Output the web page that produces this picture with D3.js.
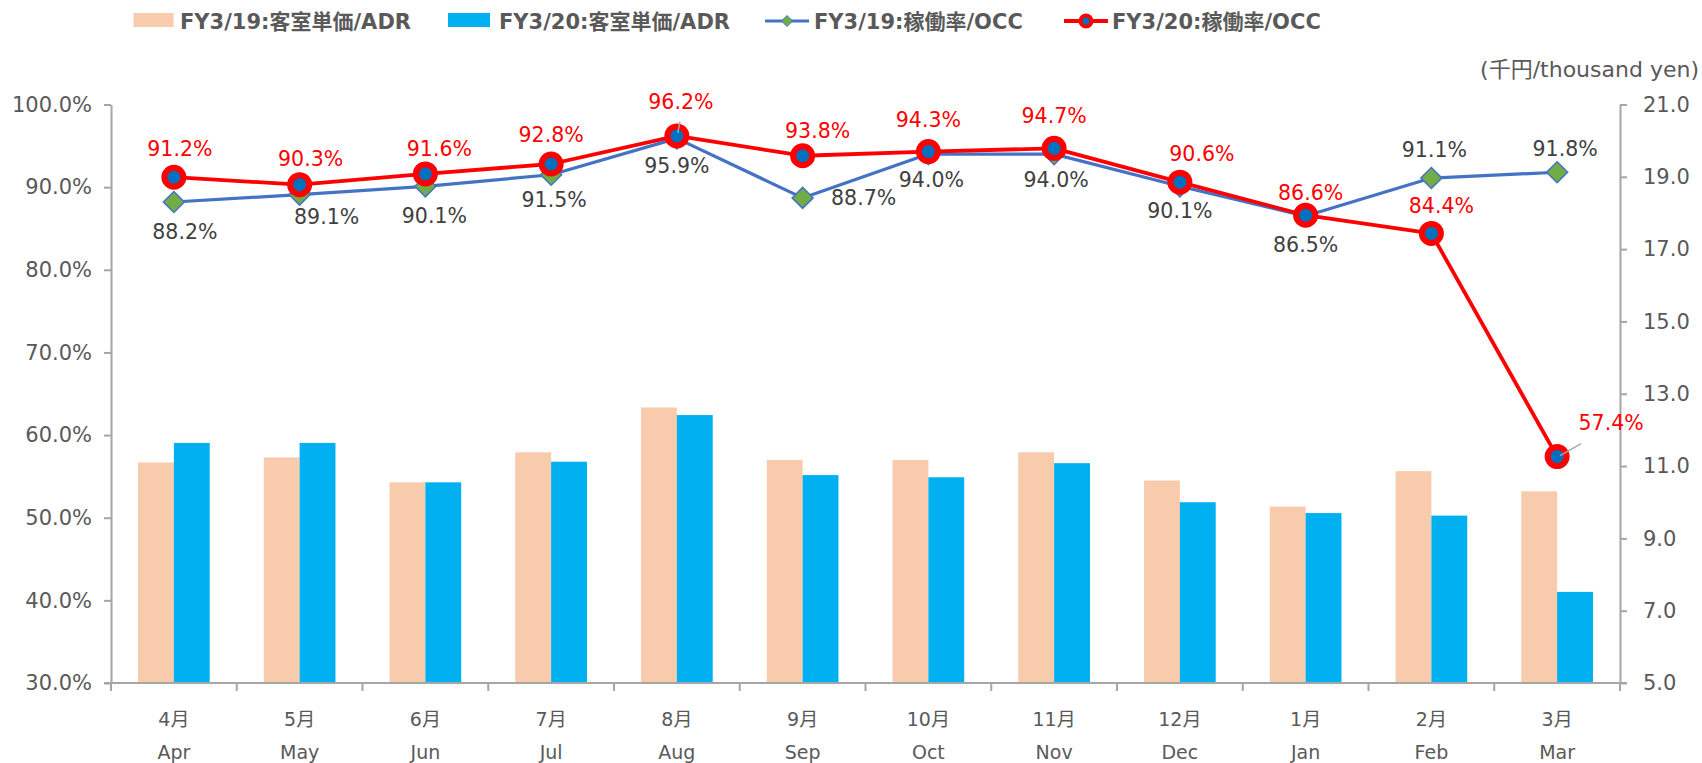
<!DOCTYPE html>
<html>
<head>
<meta charset="utf-8">
<script src="https://cdn.jsdelivr.net/npm/d3@7"></script>
<style>
  html, body { margin: 0; padding: 0; background: #fff; }
  svg { display: block; font-family: 'DejaVu Sans', 'Noto Sans CJK JP', sans-serif; }
</style>
</head>
<body>
<svg id="chart" width="1702" height="763"></svg>
<script>
// ---------------- data ----------------
const monthsJa = ["4月","5月","6月","7月","8月","9月","10月","11月","12月","1月","2月","3月"];
const monthsEn = ["Apr","May","Jun","Jul","Aug","Sep","Oct","Nov","Dec","Jan","Feb","Mar"];
const adrFY19 = [11.10, 11.24, 10.55, 11.38, 12.62, 11.17, 11.17, 11.38, 10.60, 9.88, 10.86, 10.30];
const adrFY20 = [11.64, 11.64, 10.55, 11.12, 12.41, 10.75, 10.69, 11.08, 10.00, 9.70, 9.63, 7.52];
const occFY19 = [88.2, 89.1, 90.1, 91.5, 95.9, 88.7, 94.0, 94.0, 90.1, 86.5, 91.1, 91.8];
const occFY20 = [91.2, 90.3, 91.6, 92.8, 96.2, 93.8, 94.3, 94.7, 90.6, 86.6, 84.4, 57.4];
const leftTicks = [30, 40, 50, 60, 70, 80, 90, 100];
const rightTicks = [5, 7, 9, 11, 13, 15, 17, 19, 21];
const legendLabels = ["FY3/19:客室単価/ADR", "FY3/20:客室単価/ADR", "FY3/19:稼働率/OCC", "FY3/20:稼働率/OCC"];
const unitLabel = "(千円/thousand yen)";

// label placement (pixel offsets from the point), kept apart from data
const offFY20 = [[6,-29],[11,-26],[14,-25],[0,-29],[4,-34],[15,-25],[0,-32],[0,-33],[22,-29],[5,-23],[10,-28],[54,-34]];
const offFY19 = [[11,30],[27,22],[9,29],[3,25],[0,27],[61,0],[3,26],[2,26],[0,24],[0,29],[3,-28],[8,-24]];

// ---------------- styles ----------------
const C = {
  tan: "#F8CBAD", blue: "#00B0F0",
  line19: "#4472C4", diamond: "#70AD47",
  line20: "#FF0000", dot20: "#0070C0",
  axis: "#A6A6A6", text: "#595959", label19: "#404040"
};

const svg = d3.select("#chart");
const L = 111, R = 1620, T = 104.5, B = 683;

const x = d3.scaleBand().domain(monthsEn).range([L, R]).paddingInner(0.43).paddingOuter(0.215);
const xs = d3.scaleBand().domain(["fy19","fy20"]).range([0, x.bandwidth()]);
const cx = m => x(m) + x.bandwidth() / 2;
const yL = d3.scaleLinear().domain([30, 100]).range([B, T]);
const yR = d3.scaleLinear().domain([5, 21]).range([B, T]);

// ---------------- bars ----------------
const bars = svg.append("g");
bars.selectAll("rect.a").data(adrFY19).join("rect")
  .attr("x", (d, i) => x(monthsEn[i]) + xs("fy19"))
  .attr("y", d => yR(d)).attr("width", xs.bandwidth()).attr("height", d => B - yR(d))
  .attr("fill", C.tan);
bars.selectAll("rect.b").data(adrFY20).join("rect")
  .attr("x", (d, i) => x(monthsEn[i]) + xs("fy20"))
  .attr("y", d => yR(d)).attr("width", xs.bandwidth()).attr("height", d => B - yR(d))
  .attr("fill", C.blue);

// ---------------- axes ----------------
const axL = svg.append("g").attr("transform", `translate(${L},0)`)
  .call(d3.axisLeft(yL).tickValues(leftTicks).tickSize(7).tickSizeOuter(0).tickPadding(12)
    .tickFormat(d => d.toFixed(1) + "%"));
const axR = svg.append("g").attr("transform", `translate(${R},0)`)
  .call(d3.axisRight(yR).tickValues(rightTicks).tickSize(7).tickSizeOuter(0).tickPadding(16)
    .tickFormat(d => d.toFixed(1)));
[axL, axR].forEach(g => {
  g.select(".domain").attr("stroke", C.axis).attr("stroke-width", 2);
  g.selectAll(".tick line").attr("stroke", C.axis).attr("stroke-width", 2);
  g.selectAll(".tick text").attr("fill", C.text).attr("font-size", 21)
    .attr("font-family", "'DejaVu Sans', sans-serif");
});

// bottom axis
const bottom = svg.append("g");
bottom.append("line").attr("x1", L - 7).attr("x2", R + 7).attr("y1", B).attr("y2", B)
  .attr("stroke", C.axis).attr("stroke-width", 2);
const bounds = d3.range(monthsEn.length + 1).map(k => L + k * x.step());
bottom.selectAll("line.t").data(bounds).join("line")
  .attr("x1", d => d).attr("x2", d => d).attr("y1", B).attr("y2", B + 8)
  .attr("stroke", C.axis).attr("stroke-width", 2);
bottom.selectAll("text.ja").data(monthsJa).join("text")
  .attr("x", (d, i) => cx(monthsEn[i])).attr("y", 726)
  .attr("text-anchor", "middle").attr("font-size", 19).attr("fill", C.text).text(d => d);
bottom.selectAll("text.en").data(monthsEn).join("text")
  .attr("x", d => cx(d)).attr("y", 759)
  .attr("text-anchor", "middle").attr("font-size", 19).attr("fill", C.text).text(d => d);

// unit label
svg.append("text").attr("x", 1699).attr("y", 77).attr("text-anchor", "end")
  .attr("font-size", 22).attr("fill", C.text).text(unitLabel);

// ---------------- lines ----------------
const line19 = d3.line().x((d, i) => cx(monthsEn[i])).y(d => yL(d));
svg.append("path").datum(occFY19).attr("d", line19)
  .attr("fill", "none").attr("stroke", C.line19).attr("stroke-width", 3.2).attr("stroke-linejoin", "round");
svg.append("g").selectAll("path").data(occFY19).join("path")
  .attr("transform", (d, i) => `translate(${cx(monthsEn[i])},${yL(d)})`)
  .attr("d", "M0,-10.5L10.5,0L0,10.5L-10.5,0Z")
  .attr("fill", C.diamond).attr("stroke", C.line19).attr("stroke-width", 1.5);

const line20 = d3.line().x((d, i) => cx(monthsEn[i])).y(d => yL(d));
svg.append("path").datum(occFY20).attr("d", line20)
  .attr("fill", "none").attr("stroke", C.line20).attr("stroke-width", 3.8).attr("stroke-linejoin", "round");
svg.append("g").selectAll("circle").data(occFY20).join("circle")
  .attr("cx", (d, i) => cx(monthsEn[i])).attr("cy", d => yL(d)).attr("r", 9.5)
  .attr("fill", C.dot20).attr("stroke", C.line20).attr("stroke-width", 6);

// leader lines (Aug, Mar of FY3/20)
const leaders = [{i: 4, a: [1, -3], b: [3, -14]}, {i: 11, a: [3, -1], b: [24, -13]}];
svg.append("g").selectAll("line").data(leaders).join("line")
  .attr("x1", d => cx(monthsEn[d.i]) + d.a[0]).attr("y1", d => yL(occFY20[d.i]) + d.a[1])
  .attr("x2", d => cx(monthsEn[d.i]) + d.b[0]).attr("y2", d => yL(occFY20[d.i]) + d.b[1])
  .attr("stroke", C.axis).attr("stroke-width", 1.5);

// ---------------- data labels ----------------
svg.append("g").selectAll("text").data(occFY19).join("text")
  .attr("x", (d, i) => cx(monthsEn[i]) + offFY19[i][0])
  .attr("y", (d, i) => yL(d) + offFY19[i][1])
  .attr("dy", "0.36em").attr("text-anchor", "middle").attr("font-size", 20.5)
  .attr("fill", C.label19).text(d => d.toFixed(1) + "%");
svg.append("g").selectAll("text").data(occFY20).join("text")
  .attr("x", (d, i) => cx(monthsEn[i]) + offFY20[i][0])
  .attr("y", (d, i) => yL(d) + offFY20[i][1])
  .attr("dy", "0.36em").attr("text-anchor", "middle").attr("font-size", 20.5)
  .attr("fill", C.line20).text(d => d.toFixed(1) + "%");

// ---------------- legend ----------------
const lg = svg.append("g").attr("font-weight", "bold").attr("font-size", 21).attr("fill", C.text);
const ly = 21;
const legendPos = [133.5, 448, 765, 1064];
lg.append("rect").attr("x", legendPos[0]).attr("y", 13).attr("width", 40).attr("height", 14).attr("fill", C.tan);
lg.append("rect").attr("x", legendPos[1]).attr("y", 13).attr("width", 42).attr("height", 14).attr("fill", C.blue);
lg.append("line").attr("x1", legendPos[2]).attr("x2", legendPos[2] + 44).attr("y1", ly).attr("y2", ly)
  .attr("stroke", C.line19).attr("stroke-width", 3.2);
lg.append("path").attr("transform", `translate(${legendPos[2] + 22},${ly})`)
  .attr("d", "M0,-5.5L5.5,0L0,5.5L-5.5,0Z").attr("fill", C.diamond).attr("stroke", C.line19).attr("stroke-width", 1);
lg.append("line").attr("x1", legendPos[3]).attr("x2", legendPos[3] + 44).attr("y1", ly).attr("y2", ly)
  .attr("stroke", C.line20).attr("stroke-width", 3.8);
lg.append("circle").attr("cx", legendPos[3] + 22).attr("cy", ly).attr("r", 5.5)
  .attr("fill", C.dot20).attr("stroke", C.line20).attr("stroke-width", 4);
const textX = [180, 499, 814, 1112];
lg.selectAll("text").data(legendLabels).join("text")
  .attr("x", (d, i) => textX[i]).attr("y", ly).attr("dy", "0.36em").text(d => d);
</script>
</body>
</html>
